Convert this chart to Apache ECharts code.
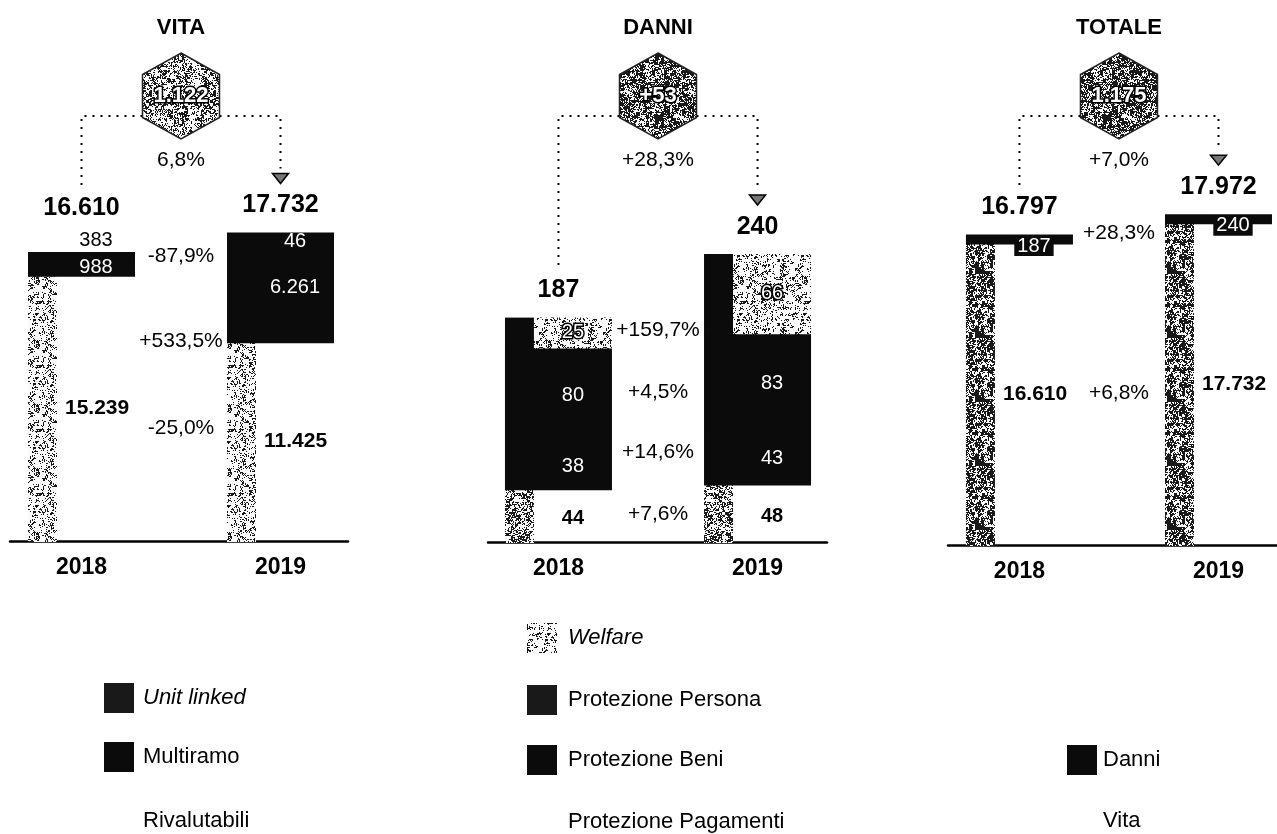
<!DOCTYPE html>
<html>
<head>
<meta charset="utf-8">
<script src="https://cdn.jsdelivr.net/npm/echarts@6/dist/echarts.min.js"></script>
<style>html,body{margin:0;padding:0;background:#fff}#c{width:1277px;height:834px}</style>
</head>
<body>
<div id="c"></div>
<script>
// ---------------- DATA ----------------
const years = ['2018', '2019'];

// VITA (bottom -> top)
const vitaRivalutabili = [15239, 11425];
const vitaMultiramo = [988, 6261];
const vitaUnitLinked = [383, 46];
const vitaTotale = [16610, 17732];
const vitaVariazioni = ['-25,0%', '+533,5%', '-87,9%'];
const vitaDelta = '1.122';
const vitaDeltaPct = '6,8%';

// DANNI (bottom -> top)
const danniPagamenti = [44, 48];
const danniBeni = [38, 43];
const danniPersona = [80, 83];
const danniWelfare = [25, 66];
const danniTotale = [187, 240];
const danniVariazioni = ['+7,6%', '+14,6%', '+4,5%', '+159,7%'];
const danniDelta = '+53';
const danniDeltaPct = '+28,3%';

// TOTALE (bottom -> top)
const totVita = [16610, 17732];
const totDanni = [187, 240];
const totTotale = [16797, 17972];
const totVariazioni = ['+6,8%', '+28,3%'];
const totDelta = '1.175';
const totDeltaPct = '+7,0%';

// ---------------- STYLE / LAYOUT ----------------
const FAM = '"Liberation Sans", Arial, Helvetica, sans-serif';
const font = (size, weight, style) => `${style || 'normal'} ${weight || 'normal'} ${size}px ${FAM}`;
const fmt = v => String(v).replace(/\B(?=(\d{3})+(?!\d))/g, '.');
const L = { full: 107, narrow: 29 };
const BLACK = '#0b0b0b';

function hash(x, y, s) {
  const t = Math.sin(x * 127.1 + y * 311.7 + s * 74.7) * 43758.5453;
  return t - Math.floor(t);
}
function stipple(threshold, seed) {
  const n = 64, c = document.createElement('canvas');
  c.width = c.height = n;
  const ctx = c.getContext('2d');
  const img = ctx.createImageData(n, n);
  for (let y = 0; y < n; y++) {
    for (let x = 0; x < n; x++) {
      const v = 0.55 * hash(x, y, seed) + 0.45 * hash(Math.floor(x / 3), Math.floor(y / 3), seed + 1);
      const g = v < threshold ? 25 : 250;
      const o = (y * n + x) * 4;
      img.data[o] = img.data[o + 1] = img.data[o + 2] = g;
      img.data[o + 3] = 255;
    }
  }
  ctx.putImageData(img, 0, 0);
  return { image: c, repeat: 'repeat' };
}
const PAT = {
  light: stipple(0.36, 3),
  medium: stipple(0.46, 5),
  dark: stipple(0.57, 7),
  hexLight: stipple(0.45, 9),
  hexDark: stipple(0.56, 11),
  nearBlack: stipple(0.985, 13)
};

const panels = [
  {
    title: 'VITA', totals: vitaTotale, pcts: vitaVariazioni, delta: vitaDelta, deltaPct: vitaDeltaPct,
    grid: { left: 10, width: 338, bottom: 293, height: 348 }, xMin: -0.3593, xMax: 1.3392, yMax: 20000,
    hexFill: 'hexLight', pctDy: [3, 64, 12],
    segments: [
      { values: vitaRivalutabili, shape: 'narrow', fill: 'light', label: 'right' },
      { values: vitaMultiramo, shape: 'full', label: 'inWhite' },
      { values: vitaUnitLinked, shape: 'full', label: ['above', 'insideTop'] }
    ]
  },
  {
    title: 'DANNI', totals: danniTotale, pcts: danniVariazioni, delta: danniDelta, deltaPct: danniDeltaPct,
    grid: { left: 488, width: 339, bottom: 292, height: 360 }, xMin: -0.354, xMax: 1.349, yMax: 300,
    hexFill: 'hexDark', pctDy: [0, -10, 3, 17],
    segments: [
      { values: danniPagamenti, shape: 'narrow', fill: 'medium', label: 'rightCenter' },
      { values: danniBeni, shape: 'full', label: 'inWhite' },
      { values: danniPersona, shape: 'full', label: 'inWhite' },
      { values: danniWelfare, shape: 'split', fill: 'light', label: 'outlined' }
    ]
  },
  {
    title: 'TOTALE', totals: totTotale, pcts: totVariazioni, delta: totDelta, deltaPct: totDeltaPct,
    grid: { left: 948, width: 329, bottom: 289, height: 363 }, xMin: -0.359, xMax: 1.294, yMax: 20000,
    hexFill: 'hexDark', pctDy: [4, 4],
    segments: [
      { values: totVita, shape: 'narrow', fill: 'dark', label: 'right' },
      { values: totDanni, shape: 'full', label: 'box', minH: 9 }
    ]
  }
];

// ---------------- RENDER HELPERS ----------------
function txt(x, y, text, f, fill, align, extra) {
  return {
    type: 'text', z2: 10,
    style: Object.assign({ x, y, text, font: f, fill, align: align || 'center', verticalAlign: 'middle' }, extra || {})
  };
}
// rects overlap the segment below by 1px so that stacked black blocks show no seam
function rect(x, y, w, h, fill) {
  return { type: 'rect', shape: { x, y, width: w, height: h + 1 }, style: { fill } };
}
function layoutBar(api, p, i) {
  const base = api.coord([i, 0]);
  const left = base[0] - L.full / 2;
  let cum = 0, prevY = base[1];
  const segs = p.segments.map(s => {
    const v = s.values[i];
    const y0 = prevY;
    let y1 = api.coord([i, cum + v])[1];
    if (s.minH && y0 - y1 < s.minH) y1 = y0 - s.minH;
    cum += v; prevY = y1;
    return { s, v, y0, y1, cy: (y0 + y1) / 2 };
  });
  return { cx: base[0], left, base: base[1], top: prevY, segs };
}
function modeOf(s, i) { return Array.isArray(s.label) ? s.label[i] : s.label; }
function totalY(p, lay, i) {
  const above = p.segments.some(s => modeOf(s, i) === 'above');
  return lay.top - 27 - (above ? 17 : 0);
}
function segLabel(seg, i, lay) {
  const mode = modeOf(seg.s, i);
  const rx = lay.left + L.narrow + (L.full - L.narrow) / 2;
  const t = fmt(seg.v);
  switch (mode) {
    case 'right': return txt(lay.left + L.narrow + 8, seg.cy, t, font(21, 'bold'), '#000', 'left');
    case 'rightCenter': return txt(rx, seg.cy + 3, t, font(20, 'bold'), '#000');
    case 'inWhite': return txt(rx, seg.cy, t, font(20), '#fff');
    case 'outlined': return txt(rx, seg.cy, t, font(20), '#fff', 'center', { stroke: '#000', lineWidth: 3 });
    case 'above': return txt(rx, lay.top - 12, t, font(20), '#000');
    case 'insideTop': return txt(rx, lay.top + 9, t, font(20), '#fff');
    case 'box': return txt(rx, seg.cy + 7, t, font(20), '#fff', 'center', { backgroundColor: BLACK, padding: [0, 3] });
  }
  return null;
}
function renderBars(p) {
  return function (params, api) {
    const i = api.value(0);
    const lay = layoutBar(api, p, i);
    const ch = [];
    lay.segs.forEach(seg => {
      const s = seg.s, h = seg.y0 - seg.y1;
      if (s.shape === 'narrow') ch.push(rect(lay.left, seg.y1, L.narrow, h, PAT[s.fill]));
      else if (s.shape === 'full') ch.push(rect(lay.left, seg.y1, L.full, h, BLACK));
      else if (s.shape === 'split') {
        ch.push(rect(lay.left, seg.y1, L.narrow, h, BLACK));
        ch.push(rect(lay.left + L.narrow, seg.y1, L.full - L.narrow, h, PAT[s.fill]));
      }
    });
    lay.segs.forEach(seg => { const l = segLabel(seg, i, lay); if (l) ch.push(l); });
    ch.push(txt(lay.cx, totalY(p, lay, i), fmt(p.totals[i]), font(25, 'bold'), '#000'));
    ch.push(txt(lay.cx, lay.base + 27, years[i], font(23, 'bold'), '#000'));
    return { type: 'group', children: ch };
  };
}
function renderDeco(p) {
  return function (params, api) {
    const l0 = layoutBar(api, p, 0), l1 = layoutBar(api, p, 1);
    const cx = (l0.cx + l1.cx) / 2;
    const hy = 96, hr = 43, hw = 38.5, ly = 116;
    const t0 = totalY(p, l0, 0), t1 = totalY(p, l1, 1);
    const dotted = { stroke: '#000', lineWidth: 2, lineDash: [2, 6], fill: null };
    const ch = [];
    ch.push(txt(cx, 28, p.title, font(22, 'bold'), '#000'));
    ch.push({ type: 'polyline', shape: { points: [[cx - hw, ly], [l0.cx, ly], [l0.cx, t0 - 21]] }, style: dotted });
    ch.push({ type: 'polyline', shape: { points: [[cx + hw, ly], [l1.cx, ly], [l1.cx, t1 - 37]] }, style: dotted });
    ch.push({ type: 'polygon', shape: { points: [[l1.cx - 8, t1 - 32], [l1.cx + 8, t1 - 32], [l1.cx, t1 - 22]] },
      style: { fill: '#777', stroke: '#000', lineWidth: 1.5 } });
    ch.push({ type: 'polygon', shape: { points: [[cx, hy - hr], [cx + hw, hy - hr / 2], [cx + hw, hy + hr / 2], [cx, hy + hr], [cx - hw, hy + hr / 2], [cx - hw, hy - hr / 2]] },
      style: { fill: PAT[p.hexFill], stroke: '#222', lineWidth: 1.5 } });
    ch.push(txt(cx, hy, p.delta, font(22, 'bold'), '#fff', 'center', { stroke: '#000', lineWidth: 3 }));
    ch.push(txt(cx, 160, p.deltaPct, font(21), '#000'));
    p.segments.forEach((s, k) => {
      const y = (l0.segs[k].cy + l1.segs[k].cy) / 2 + p.pctDy[k];
      ch.push(txt(cx, y, p.pcts[k], font(21), '#000'));
    });
    return { type: 'group', children: ch };
  };
}

// ---------------- LEGENDS ----------------
const legends = [
  { x: 104, tx: 143, items: [
    { y: 698, name: 'Unit linked', italic: true, fill: 'nearBlack' },
    { y: 757, name: 'Multiramo', fill: BLACK },
    { y: 821, name: 'Rivalutabili' } ] },
  { x: 527, tx: 568, items: [
    { y: 638, name: 'Welfare', italic: true, fill: 'light' },
    { y: 700, name: 'Protezione Persona', fill: 'nearBlack' },
    { y: 760, name: 'Protezione Beni', fill: BLACK },
    { y: 822, name: 'Protezione Pagamenti' } ] },
  { x: 1067, tx: 1103, items: [
    { y: 760, name: 'Danni', fill: BLACK },
    { y: 821, name: 'Vita' } ] }
];
const graphic = [];
legends.forEach(lg => lg.items.forEach(it => {
  if (it.fill) graphic.push({ type: 'rect', shape: { x: lg.x, y: it.y - 15, width: 30, height: 30 },
    style: { fill: PAT[it.fill] || it.fill } });
  graphic.push({ type: 'text', x: lg.tx, y: it.y,
    style: { text: it.name, font: font(22, 'normal', it.italic ? 'italic' : 'normal'), fill: '#000', verticalAlign: 'middle', align: 'left' } });
}));

// ---------------- OPTION ----------------
const option = {
  animation: false,
  backgroundColor: '#fff',
  grid: panels.map(p => Object.assign({ containLabel: false }, p.grid)),
  xAxis: panels.map((p, k) => ({
    type: 'value', gridIndex: k, min: p.xMin, max: p.xMax,
    axisLine: { show: true, onZero: true, lineStyle: { color: '#000', width: 2.5 } },
    axisTick: { show: false }, axisLabel: { show: false }, splitLine: { show: false }
  })),
  yAxis: panels.map((p, k) => ({ type: 'value', gridIndex: k, min: 0, max: p.yMax, show: false })),
  series: [],
  graphic
};
panels.forEach((p, k) => {
  option.series.push({
    type: 'custom', name: p.title, xAxisIndex: k, yAxisIndex: k, silent: true, clip: false,
    data: years.map((y, i) => [i, p.totals[i]]), encode: { x: 0, y: 1 },
    renderItem: renderBars(p)
  });
  option.series.push({
    type: 'custom', name: p.title + '-deco', xAxisIndex: k, yAxisIndex: k, silent: true, clip: false,
    data: [[0.5, 0]], encode: { x: 0, y: 1 },
    renderItem: renderDeco(p)
  });
});

const chart = echarts.init(document.getElementById('c'), null, { renderer: 'canvas' });
chart.setOption(option);
</script>
</body>
</html>
